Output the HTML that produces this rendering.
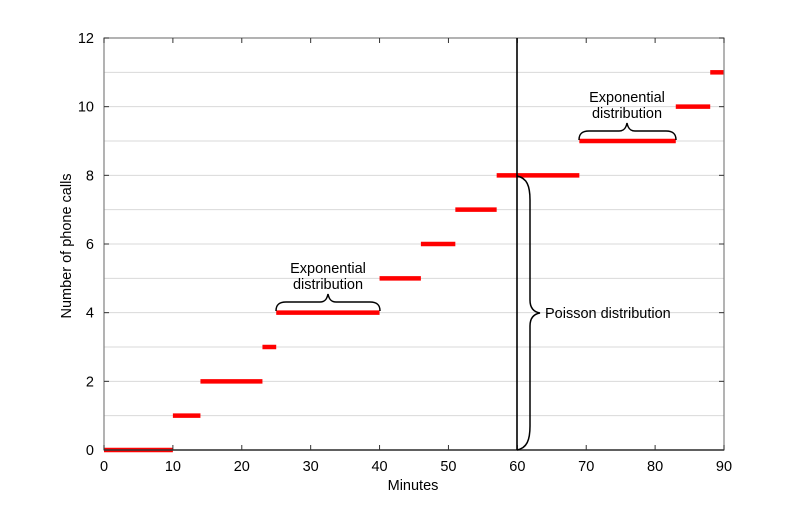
<!DOCTYPE html>
<html><head><meta charset="utf-8">
<style>
html,body{margin:0;padding:0;background:#fff;}
svg{display:block;font-family:"Liberation Sans",Arial,sans-serif;}
</style></head>
<body>
<svg id="chart" width="800" height="506" viewBox="0 0 800 506">
<g id="grid"></g>
<g id="steps"></g>
<g id="axes"></g>
<line x1="517" y1="38" x2="517" y2="450" stroke="#000" stroke-width="1.6"/>
<path d="M517,176 C527,178 530,186 530,200 L530,300 C530,308 534,312 540,313 C534,314 530,318 530,326 L530,426 C530,440 527,448 517,450" fill="none" stroke="#000" stroke-width="1.5"/>
<text x="545" y="318" font-size="14.5">Poisson distribution</text>
<path d="M276,311 C276,305 279,302 286,302 L320,302 C325,302 327,299 328,294 C329,299 331,302 336,302 L370,302 C377,302 380,305 380,311" fill="none" stroke="#000" stroke-width="1.5"/>
<text x="328" y="273" font-size="14.5" text-anchor="middle">Exponential</text>
<text x="328" y="289" font-size="14.5" text-anchor="middle">distribution</text>
<path d="M579,140 C579,134 582,131 589,131 L619,131 C624,131 626,128 627,123 C628,128 630,131 635,131 L666,131 C673,131 676,134 676,140" fill="none" stroke="#000" stroke-width="1.5"/>
<text x="627" y="102" font-size="14.5" text-anchor="middle">Exponential</text>
<text x="627" y="118" font-size="14.5" text-anchor="middle">distribution</text>
<text x="413" y="490" font-size="14.5" text-anchor="middle">Minutes</text>
<text transform="translate(71,246) rotate(-90)" font-size="14.5" text-anchor="middle">Number of phone calls</text>
</svg>
<script>
const stepStarts = [0, 10, 14, 23, 25, 40, 46, 51, 57, 69, 83, 88];
const stepEnds   = [10, 14, 23, 25, 40, 46, 51, 57, 69, 83, 88, 90];
const stepCounts = [0, 1, 2, 3, 4, 5, 6, 7, 8, 9, 10, 11];
const xTicks = [0, 10, 20, 30, 40, 50, 60, 70, 80, 90];
const yTicks = [0, 2, 4, 6, 8, 10, 12];
const yGrid = [1, 2, 3, 4, 5, 6, 7, 8, 9, 10, 11];

const X0 = 104, X1 = 724, Y0 = 450, Y1 = 38;
const xs = v => X0 + (v - 0) / 90 * (X1 - X0);
const ys = v => Y0 - v / 12 * (Y0 - Y1);
const NS = 'http://www.w3.org/2000/svg';
function mk(tag, attrs, parent) {
  const e = document.createElementNS(NS, tag);
  for (const k in attrs) e.setAttribute(k, attrs[k]);
  parent.appendChild(e);
  return e;
}
const grid = document.getElementById('grid');
yGrid.forEach(v => {
  const l = mk('line', {x1: X0, x2: X1, y1: ys(v), y2: ys(v), stroke: '#d9d9d9', 'stroke-width': 1}, grid);
  
  
});
const steps = document.getElementById('steps');
stepCounts.forEach((c, i) => {
  const l = mk('line', {x1: xs(stepStarts[i]), x2: xs(stepEnds[i]), y1: ys(c), y2: ys(c), stroke: '#ff0000', 'stroke-width': 4.5}, steps);
  
  
});
const axes = document.getElementById('axes');
const frame = mk('rect', {x: X0, y: Y1, width: X1 - X0, height: Y0 - Y1, fill: 'none', stroke: '#808080', 'stroke-width': 1.2}, axes);


const base = mk('line', {x1: X0, x2: X1, y1: Y0, y2: Y0, stroke: '#333', 'stroke-width': 1.4}, axes);


xTicks.forEach(v => {
  const x = xs(v);
  mk('line', {x1: x, x2: x, y1: Y0, y2: Y0 - 5, stroke: '#333'}, axes);
  mk('line', {x1: x, x2: x, y1: Y1, y2: Y1 + 5, stroke: '#333'}, axes);
  const t = mk('text', {x: x, y: Y0 + 21, 'font-size': 14.5, 'text-anchor': 'middle'}, axes);
  t.textContent = v;
  
  
});
yTicks.forEach(v => {
  const y = ys(v);
  mk('line', {x1: X0, x2: X0 + 5, y1: y, y2: y, stroke: '#333'}, axes);
  mk('line', {x1: X1, x2: X1 - 5, y1: y, y2: y, stroke: '#333'}, axes);
  const t = mk('text', {x: X0 - 10, y: y + 5, 'font-size': 14.5, 'text-anchor': 'end'}, axes);
  t.textContent = v;
  
  
});
</script>
</body></html>
